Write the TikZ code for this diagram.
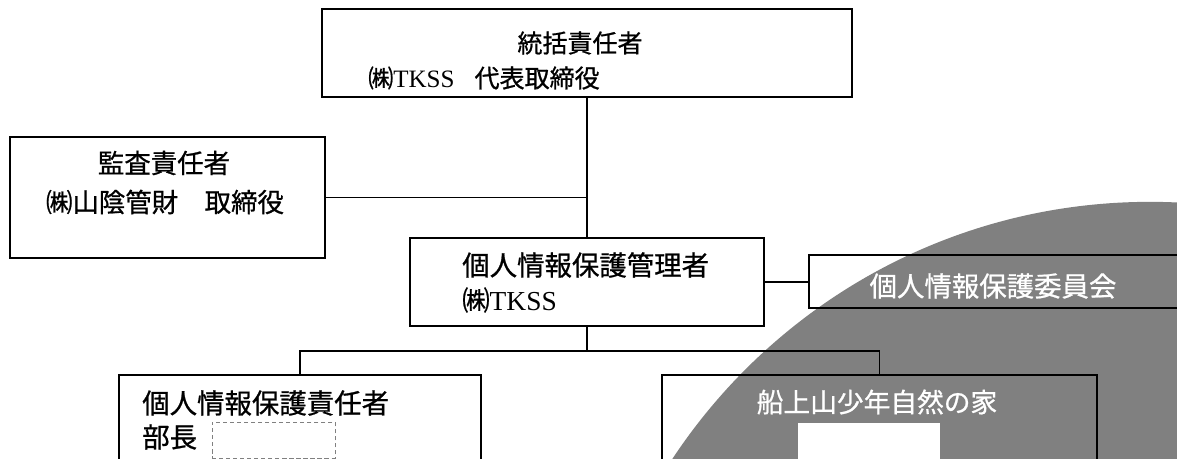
\documentclass[tikz,border=0pt]{standalone}
\usepackage{fontspec}
\usepackage{xcolor}
\setmainfont{Liberation Serif}
\newfontfamily\jp[FakeBold=0.8]{Noto Sans CJK JP}
\usetikzlibrary{positioning}
\definecolor{screen}{gray}{0.5}
\tikzset{
  box/.style={draw, line width=1.4pt, inner sep=0pt},
  conn/.style={line width=1.4pt},
  lbl/.style={anchor=west, inner sep=0pt, font=\jp\fontsize{19.5}{20}\selectfont},
  onscreen/.style={lbl, anchor=center, text=white}
}

\begin{document}
\begin{tikzpicture}[x=0.025cm,y=-0.025cm]
    \useasboundingbox (0,0) rectangle (1177,459);
    \clip (0,0) rectangle (1177,459);
    \fill[white] (0,0) rectangle (1177,459);
    % screened area
    \fill[screen] (1150,774) circle [radius=14.3cm];
    % boxes
    \node[box, minimum width=13.25cm, minimum height=2.2cm] (gen) at (587,53) {};
    \node[box, minimum width=7.875cm, minimum height=3.025cm] (aud) at (167.5,197.5) {};
    \node[box, minimum width=8.825cm, minimum height=2.2cm] (mgr) at (587,282) {};
    \node[box, minimum width=9.775cm, minimum height=1.325cm] (com) at (1004.5,281.5) {};
    \node[box, minimum width=9.025cm, minimum height=3.625cm] (resp) at (300,447.5) {};
    \node[box, minimum width=10.875cm, minimum height=3.625cm] (nat) at (879.5,447.5) {};
    \node[draw=gray, densely dashed, line width=0.6pt, minimum width=3.075cm, minimum height=0.9cm] (respname) at (273.5,440) {};
    \node[fill=white, minimum width=3.55cm, minimum height=1.15cm] (natname) at (869,446) {};
    % texts
    \node[lbl, anchor=center, font=\jp\fontsize{17.8}{18}\selectfont] (genT) at (580,43) {統括責任者};
    \node[lbl, font=\jp\fontsize{17.8}{18}\selectfont] (genS) at (368,78) {㈱{\rmfamily TKSS}\hspace{0.8em}代表取締役};
    \node[lbl, anchor=center, font=\jp\fontsize{18.8}{19}\selectfont] (audT) at (164,163) {監査責任者};
    \node[lbl, anchor=center, font=\jp\fontsize{18.8}{19}\selectfont] (audS) at (165,202) {㈱山陰管財　取締役};
    \node[lbl] (mgrT) at (462,265) {個人情報保護管理者};
    \node[lbl] (mgrS) at (462,300) {㈱{\rmfamily TKSS}};
    \node[onscreen] (comT) at (993,286) {個人情報保護委員会};
    \node[lbl] (respT) at (142,403) {個人情報保護責任者};
    \node[lbl] (respS) at (142,437) {部長};
    \node[onscreen, font=\jp\fontsize{19}{19}\selectfont] (natT) at (877,402) {船上山少年自然の家};
    % connectors
    \coordinate (fork) at (587,351);
    \draw[conn] (gen.south) -- (mgr.north);
    \draw[conn] (aud.east) -- (aud.east -| gen.south);
    \draw[conn] (mgr.east) -- (mgr.east -| com.west);
    \draw[conn] (mgr.south) -- (fork);
    \draw[conn] (resp.north) |- (fork) -| (nat.north);
\end{tikzpicture}
\end{document}
